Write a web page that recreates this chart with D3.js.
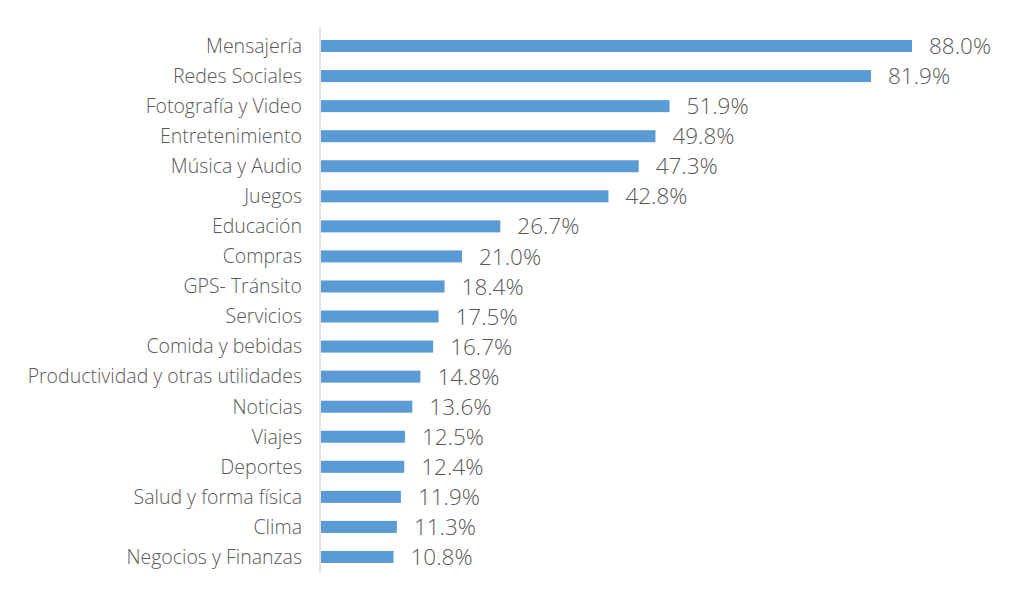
<!DOCTYPE html>
<html>
<head>
  <meta charset="utf-8">
  <title>Categorías de apps</title>
  <script src="https://d3js.org/d3.v7.min.js"></script>
  <style>
    body { margin: 0; background: #fff; }
    text { font-family: "Open Sans", Lato, sans-serif; fill: #595959; }
  </style>
</head>
<body>
  <svg width="1024" height="604"></svg>
  <script>
// categorías y porcentajes
const categories = [
  'Mensajería', 'Redes Sociales', 'Fotografía y Video', 'Entretenimiento',
  'Música y Audio', 'Juegos', 'Educación', 'Compras', 'GPS- Tránsito',
  'Servicios', 'Comida y bebidas', 'Productividad y otras utilidades',
  'Noticias', 'Viajes', 'Deportes', 'Salud y forma física', 'Clima',
  'Negocios y Finanzas'
];
const values = [88.0, 81.9, 51.9, 49.8, 47.3, 42.8, 26.7, 21.0, 18.4,
  17.5, 16.7, 14.8, 13.6, 12.5, 12.4, 11.9, 11.3, 10.8];

const data = categories.map((c, i) => ({ cat: c, val: values[i] }));

const svg = d3.select('svg');

const x = d3.scaleLinear()
  .domain([0, 88])
  .range([321, 912]);

const y = d3.scaleBand()
  .domain(categories)
  .range([31, 572])
  .paddingInner(0.6)
  .paddingOuter(0.3);

// barras
svg.append('g')
  .selectAll('rect')
  .data(data)
  .join('rect')
  .attr('x', x(0))
  .attr('y', d => y(d.cat))
  .attr('width', d => x(d.val) - x(0))
  .attr('height', y.bandwidth())
  .attr('fill', '#5b9bd5');

// eje vertical
svg.append('line')
  .attr('x1', 320).attr('x2', 320)
  .attr('y1', 28).attr('y2', 573)
  .attr('stroke', '#d9d9d9')
  .attr('stroke-width', 1.5);

// etiquetas de categoría
svg.append('g')
  .selectAll('text')
  .data(data)
  .join('text')
  .attr('x', 302)
  .attr('y', d => y(d.cat) + y.bandwidth() / 2)
  .attr('dy', '0.35em')
  .attr('text-anchor', 'end')
  .attr('font-size', 19.5)
  .attr('font-weight', 300)
  .text(d => d.cat);

// valores
svg.append('g')
  .selectAll('text')
  .data(data)
  .join('text')
  .attr('x', d => x(d.val) + 17)
  .attr('y', d => y(d.cat) + y.bandwidth() / 2)
  .attr('dy', '0.36em')
  .attr('font-size', 22.5)
  .attr('font-weight', 300)
  .text(d => d.val.toFixed(1) + '%');
  </script>
</body>
</html>
